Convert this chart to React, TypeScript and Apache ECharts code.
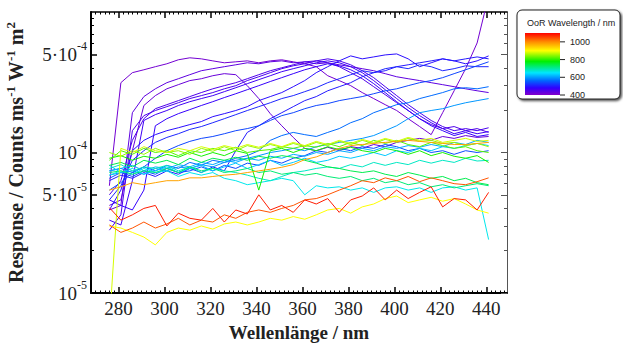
import React, { useEffect, useRef } from "react";
import * as echarts from "echarts";

// Wavelength grid (nm)
const wavelengths = [276, 281, 286, 291, 296, 301, 306, 311, 316, 321, 326, 331, 336, 341, 346, 351, 356, 361, 366, 371, 376, 381, 386, 391, 396, 401, 406, 411, 416, 421, 426, 431, 436, 441];

// Responses in units of 1e-5 Counts ms^-1 W^-1 m^2, one array per OoR wavelength
const r415 = [5.8, 31.4, 37.0, 38.8, 40.8, 42.8, 45.7, 47.2, 46.4, 44.9, 43.5, 44.2, 44.9, 43.5, 44.9, 45.7, 44.2, 42.8, 40.8, 35.2, 32.5, 29.9, 26.7, 24.2, 21.9, 19.9, 17.4, 15.3, 13.4, 19.2, 27.5, 39.5, 60.2, 130];
const r425 = [4.2, 4.6, 10.3, 21.6, 25.4, 28.4, 30.4, 32.5, 33.5, 35.2, 36.4, 35.8, 29.9, 24.2, 18.9, 15.5, 12.8, 10.7, 10.3, 10.9, 10.3, 11.0, 10.7, 11.4, 11.0, 11.8, 12.2, 12.6, 12.2, 13.0, 12.6, 13.2, 12.8, 13.0];
const r435 = [3.9, 4.2, 19.2, 25.0, 28.4, 31.4, 33.5, 35.8, 38.2, 39.5, 40.8, 42.1, 43.5, 42.8, 44.2, 44.9, 43.5, 44.2, 42.8, 43.5, 42.1, 40.8, 39.5, 38.2, 36.4, 34.6, 33.5, 32.5, 31.4, 30.4, 29.4, 28.4, 27.5, 26.7];
const r450 = [5.0, 6.3, 12.2, 17.4, 20.5, 21.9, 23.4, 25.0, 26.7, 28.4, 29.9, 31.4, 33.5, 35.8, 38.2, 40.1, 42.1, 44.2, 44.9, 43.5, 40.8, 37.0, 33.5, 29.4, 25.8, 22.6, 19.9, 17.4, 15.8, 14.8, 15.3, 14.3, 14.8, 13.9];
const r455 = [2.8, 3.6, 14.3, 18.3, 19.9, 21.2, 22.6, 24.2, 25.4, 26.7, 28.4, 29.9, 32.5, 34.6, 37.0, 39.5, 41.4, 42.8, 44.9, 46.4, 44.9, 42.1, 38.2, 34.1, 29.4, 25.4, 21.9, 19.2, 16.9, 15.3, 14.3, 14.8, 14.3, 15.0];
const r465 = [3.3, 3.05, 6.3, 16.9, 18.6, 19.9, 21.6, 23.0, 24.2, 25.4, 27.1, 28.9, 30.9, 33.0, 35.2, 37.6, 39.5, 41.4, 43.5, 44.9, 43.5, 40.8, 37.0, 32.5, 28.0, 24.2, 20.9, 18.3, 16.3, 14.8, 13.6, 14.3, 13.6, 14.1];
const r475 = [4.6, 4.2, 3.9, 5.4, 15.5, 17.4, 18.9, 20.2, 21.6, 23.0, 24.6, 26.2, 28.0, 29.9, 32.0, 34.1, 36.4, 38.8, 40.8, 42.8, 41.4, 38.8, 35.2, 30.9, 26.7, 23.0, 19.9, 17.4, 15.5, 14.3, 13.2, 13.9, 13.0, 13.4];
const r490 = [3.9, 5.4, 10.3, 12.2, 13.4, 14.3, 15.0, 15.8, 16.6, 18.0, 18.9, 19.9, 21.2, 23.4, 25.0, 26.7, 29.4, 32.5, 37.0, 40.8, 44.9, 48.7, 46.4, 47.9, 49.5, 50.3, 46.4, 40.8, 43.5, 46.4, 44.9, 42.8, 44.9, 48.7];
const r500 = [6.3, 6.9, 6.55, 7.2, 6.75, 7.4, 7.0, 7.7, 7.2, 7.9, 7.4, 10.3, 13.9, 15.5, 17.4, 19.2, 21.2, 23.4, 25.0, 27.5, 29.4, 31.4, 34.6, 37.0, 38.2, 40.8, 42.1, 43.5, 44.9, 46.4, 44.9, 46.4, 47.9, 46.4];
const r510 = [4.6, 5.8, 8.8, 10.3, 11.8, 12.8, 13.6, 14.6, 15.3, 16.3, 17.4, 18.6, 19.9, 21.2, 22.6, 24.2, 25.4, 27.1, 28.9, 31.4, 33.5, 35.8, 38.2, 37.0, 39.5, 40.8, 39.5, 42.1, 40.8, 38.2, 39.5, 41.4, 40.8, 40.8];
const r535 = [5.4, 6.1, 7.2, 7.9, 9.1, 10.3, 11.2, 12.0, 12.6, 13.0, 13.6, 14.3, 14.8, 15.5, 16.9, 18.3, 19.2, 20.5, 21.6, 22.3, 23.4, 24.2, 25.0, 26.2, 27.5, 28.4, 29.9, 31.4, 32.5, 34.1, 36.4, 38.8, 41.4, 44.2];
const r540 = [6.55, 7.2, 6.75, 7.4, 7.0, 7.7, 7.2, 7.4, 7.9, 7.4, 8.1, 7.7, 8.4, 8.1, 8.8, 8.4, 9.1, 9.5, 10.3, 10.0, 10.7, 10.3, 11.0, 10.7, 11.4, 11.0, 10.3, 10.7, 10.0, 10.3, 9.7, 10.3, 10.0, 10.3];
const r565 = [7.4, 7.7, 7.2, 7.9, 7.4, 8.1, 7.7, 8.5, 8.1, 8.8, 8.5, 9.1, 9.5, 10.3, 12.2, 13.2, 13.9, 13.4, 13.0, 13.9, 14.8, 16.3, 17.4, 19.2, 20.5, 21.9, 22.6, 24.2, 25.4, 26.7, 28.4, 28.9, 28.4, 29.4];
const r595 = [6.9, 7.2, 7.4, 7.0, 7.7, 7.4, 7.9, 7.7, 8.2, 7.9, 8.5, 8.8, 9.1, 9.5, 10.0, 10.3, 10.7, 10.3, 11.0, 11.4, 11.8, 12.2, 12.6, 13.2, 14.3, 15.5, 17.4, 19.2, 19.9, 20.5, 21.6, 22.6, 23.4, 24.2];
const r610 = [7.4, 7.7, 8.1, 7.4, 7.9, 7.7, 8.2, 7.9, 8.5, 8.2, 8.8, 8.5, 9.1, 8.8, 9.4, 9.1, 9.7, 9.4, 10.0, 9.7, 10.3, 10.0, 10.7, 10.3, 11.0, 10.7, 11.2, 10.9, 11.4, 11.0, 11.8, 11.4, 12.2, 11.8];
const r630 = [8.1, 7.2, 7.7, 7.0, 7.4, 7.9, 7.2, 7.7, 8.1, 7.4, 7.9, 8.4, 7.7, 8.2, 8.8, 8.1, 8.5, 9.1, 8.5, 8.8, 9.4, 9.1, 9.5, 10.0, 9.5, 10.3, 10.0, 10.7, 10.3, 11.0, 10.7, 11.2, 11.6, 11.2];
const r660 = [6.9, 7.4, 7.0, 7.7, 7.2, 7.4, 6.75, 7.2, 6.9, 7.2, 6.55, 6.3, 5.9, 6.1, 6.3, 6.55, 6.3, 5.0, 5.8, 5.6, 5.7, 5.4, 5.6, 5.2, 5.6, 5.7, 5.4, 5.6, 5.2, 5.6, 5.7, 5.4, 5.6, 2.4];
const r680 = [7.7, 8.2, 7.4, 7.9, 7.7, 8.1, 7.4, 7.9, 7.2, 7.7, 7.4, 7.2, 6.9, 6.55, 6.3, 6.75, 7.2, 7.4, 7.7, 7.9, 7.7, 8.2, 7.9, 8.5, 8.1, 8.5, 8.2, 8.8, 8.4, 8.8, 8.5, 9.1, 8.7, 8.8];
const r720 = [7.2, 7.4, 7.0, 7.4, 7.2, 7.7, 7.2, 7.9, 7.4, 7.7, 7.2, 7.4, 7.7, 7.2, 7.4, 7.0, 7.2, 6.9, 7.1, 6.75, 6.55, 6.75, 6.3, 6.55, 6.1, 6.3, 5.9, 6.1, 5.7, 5.9, 5.6, 5.8, 6.0, 5.8];
const r740 = [8.1, 8.5, 7.9, 8.8, 8.4, 8.8, 8.2, 9.1, 8.5, 9.1, 8.8, 9.25, 8.8, 9.4, 9.1, 9.5, 9.25, 8.8, 8.4, 7.9, 7.7, 7.4, 7.2, 7.4, 7.0, 6.75, 7.2, 6.9, 6.55, 6.75, 6.3, 6.55, 6.1, 5.9];
const r790 = [9.1, 9.5, 8.8, 9.4, 9.1, 9.7, 9.25, 10.0, 9.4, 10.0, 9.5, 10.3, 9.85, 5.4, 10.3, 10.7, 10.0, 10.7, 10.3, 11.0, 10.5, 10.9, 10.3, 10.0, 10.7, 10.3, 9.7, 10.3, 9.5, 10.0, 9.4, 9.1, 9.5, 8.5];
const r820 = [8.8, 10.3, 9.7, 10.7, 10.0, 10.3, 9.5, 10.3, 10.0, 10.7, 10.3, 10.9, 10.0, 10.3, 10.5, 11.0, 10.7, 11.2, 10.9, 11.6, 11.0, 11.8, 11.2, 12.2, 11.6, 12.2, 11.4, 11.0, 11.8, 11.2, 10.7, 11.0, 10.3, 10.0];
const r850 = [10.0, 9.4, 10.3, 9.7, 10.7, 10.0, 10.3, 9.7, 10.7, 10.2, 11.0, 10.3, 11.2, 10.7, 11.4, 10.9, 11.6, 11.0, 11.8, 11.2, 12.0, 11.4, 12.2, 11.6, 12.4, 11.8, 12.6, 12.0, 12.2, 11.6, 11.8, 11.2, 11.6, 11.0];
const r880 = [0.6, 10.7, 10.0, 11.0, 10.3, 10.0, 10.7, 10.3, 11.0, 10.5, 11.2, 10.7, 11.4, 10.9, 11.6, 11.0, 11.8, 11.2, 12.0, 11.4, 12.2, 11.6, 12.4, 11.8, 12.6, 12.0, 12.8, 12.2, 12.6, 11.8, 12.2, 12.6, 12.0, 12.2];
const r900 = [3.0, 2.9, 2.7, 2.5, 2.2, 2.7, 2.9, 2.8, 3.0, 2.85, 3.1, 3.2, 3.05, 3.2, 3.4, 3.3, 3.5, 3.35, 3.6, 3.9, 4.0, 3.7, 4.1, 4.3, 4.7, 4.9, 4.4, 4.6, 4.8, 4.5, 4.7, 4.3, 3.9, 3.7];
const r980 = [5.4, 5.7, 6.1, 5.9, 6.1, 6.3, 6.3, 6.6, 6.6, 6.75, 6.9, 7.0, 7.2, 7.4, 7.6, 7.85, 8.2, 8.9, 9.3, 10.0, 10.7, 11.2, 11.4, 11.6, 11.8, 12.0, 12.2, 12.0, 11.8, 11.6, 11.4, 11.4, 11.6, 11.8];
const r1040 = [3.05, 2.7, 2.9, 3.2, 2.9, 3.1, 3.4, 3.05, 3.3, 3.2, 3.6, 3.4, 3.75, 3.9, 3.75, 4.0, 4.2, 4.6, 4.7, 5.0, 5.4, 5.8, 6.3, 6.1, 6.6, 6.3, 6.75, 6.2, 6.6, 6.3, 6.0, 5.9, 6.2, 6.6];
const r1080 = [4.05, 3.3, 3.6, 4.0, 4.2, 3.0, 3.7, 3.4, 3.3, 4.0, 3.2, 3.9, 3.65, 5.0, 3.9, 4.2, 3.75, 4.6, 4.3, 4.7, 3.75, 4.6, 4.9, 5.6, 4.6, 5.4, 4.7, 5.2, 5.7, 4.1, 4.7, 4.6, 3.9, 5.2];

const oorWavelengths = [415, 425, 435, 450, 455, 465, 475, 490, 500, 510, 535, 540, 565, 595, 610, 630, 660, 680, 720, 740, 790, 820, 850, 880, 900, 980, 1040, 1080];
const responses = [r415, r425, r435, r450, r455, r465, r475, r490, r500, r510, r535, r540, r565, r595, r610, r630, r660, r680, r720, r740, r790, r820, r850, r880, r900, r980, r1040, r1080];

// Colour scale (OoR wavelength / nm -> colour)
const scaleValues = [400, 480, 560, 650, 780, 900, 1000, 1100];
const scaleColors = ["#8200c8", "#3000ff", "#0064ff", "#00e6ff", "#00f000", "#ffff00", "#ff8c00", "#ff0000"];
const legendTicks = [400, 600, 800, 1000];

const xLabelTicks = [280, 300, 320, 340, 360, 380, 400, 420, 440];
const yLabelTicks = [1e-5, 5e-5, 1e-4, 5e-4];

const X_MIN = 268;
const X_MAX = 449;
const SERIF = "'Liberation Serif', 'Times New Roman', serif";
const SANS = "'Liberation Sans', Arial, sans-serif";

function hex(c: string) {
  return [parseInt(c.slice(1, 3), 16), parseInt(c.slice(3, 5), 16), parseInt(c.slice(5, 7), 16)];
}
function colorFor(v: number) {
  for (let i = 0; i < scaleValues.length - 1; i++) {
    if (v <= scaleValues[i + 1]) {
      const t = (v - scaleValues[i]) / (scaleValues[i + 1] - scaleValues[i]);
      const a = hex(scaleColors[i]);
      const b = hex(scaleColors[i + 1]);
      const m = a.map((x, k) => Math.round(x + (b[k] - x) * t));
      return `rgb(${m[0]},${m[1]},${m[2]})`;
    }
  }
  return scaleColors[scaleColors.length - 1];
}

export default function App() {
  const ref = useRef<HTMLDivElement>(null);
  useEffect(() => {
    if (!ref.current) return;
    const chart = echarts.init(ref.current, null, { renderer: "svg" });

    const majorX = xLabelTicks;
    const minorX: number[] = [];
    for (let v = 270; v <= 448; v += 2) if (v % 20 !== 0) minorX.push(v);
    const majorY = yLabelTicks.map((v) => Math.log10(v));
    const minorY: number[] = [];
    for (let e = -5; e <= -4; e++) for (let k = 2; k <= 9; k++) if (k !== 5) minorY.push(Math.log10(k) + e);

    const fmtY = (v: number) => {
      const e = Math.floor(v + 1e-6);
      const m = Math.round(Math.pow(10, v - e));
      return (m === 1 ? "" : m + "·") + "10{s|" + e + "}";
    };

    const baseX = {
      type: "value" as const,
      min: X_MIN,
      max: X_MAX,
      splitLine: { show: false },
      axisLine: { onZero: false, lineStyle: { color: "#000", width: 2 } },
    };
    const baseY = {
      type: "value" as const,
      min: -5,
      max: -3,
      splitLine: { show: false },
      axisLine: { onZero: false, lineStyle: { color: "#000", width: 2 } },
    };

    const grid = { left: 91, top: 12, right: 116, bottom: 51, outerBoundsMode: "none" };

    const series = responses.map((arr, i) => ({
      type: "line",
      name: String(oorWavelengths[i]),
      xAxisIndex: 0,
      yAxisIndex: 0,
      showSymbol: false,
      symbol: "none",
      silent: true,
      clip: true,
      lineStyle: { width: 1, color: colorFor(oorWavelengths[i]) },
      data: wavelengths.map((w, j) => [w, Math.log10(arr[j] * 1e-5)]),
    }));

    const bar = { x: 525, y: 33, w: 35, h: 62 };
    const legendGraphics: any[] = [
      {
        type: "rect",
        shape: { x: 517, y: 10, width: 103, height: 89, r: 5 },
        style: { fill: "#fff", stroke: "#222", lineWidth: 1, shadowBlur: 2, shadowOffsetX: 1.5, shadowOffsetY: 1.5, shadowColor: "rgba(0,0,0,0.7)" },
        z: 100,
      },
      {
        type: "text",
        x: 527,
        y: 23,
        style: { text: "OoR Wavelength / nm", font: `9px ${SANS}`, fill: "#222", verticalAlign: "middle" },
        z: 101,
      },
      {
        type: "rect",
        shape: { x: bar.x, y: bar.y, width: bar.w, height: bar.h },
        style: {
          fill: new echarts.graphic.LinearGradient(
            0, 1, 0, 0,
            scaleValues.map((v, i) => ({ offset: (v - 400) / 700, color: scaleColors[i] }))
          ),
        },
        z: 101,
      },
    ];
    legendTicks.forEach((v) => {
      const y = bar.y + bar.h - ((v - 400) / 700) * bar.h;
      legendGraphics.push({
        type: "line",
        shape: { x1: bar.x + bar.w, y1: y, x2: bar.x + bar.w + 5, y2: y },
        style: { stroke: "#222", lineWidth: 1 },
        z: 101,
      });
      legendGraphics.push({
        type: "text",
        x: bar.x + bar.w + 10,
        y,
        style: { text: String(v), font: `9px ${SANS}`, fill: "#222", verticalAlign: "middle" },
        z: 101,
      });
    });

    chart.setOption({
      animation: false,
      backgroundColor: "#fff",
      grid,
      xAxis: [
        {
          ...baseX,
          position: "bottom",
          axisTick: { inside: true, length: 6, customValues: majorX, lineStyle: { color: "#000", width: 1.5 } },
          axisLabel: { customValues: majorX, fontFamily: SERIF, fontSize: 19, color: "#222", margin: 6 },
          name: "Wellenlänge / nm",
          nameLocation: "middle",
          nameGap: 27,
          nameTextStyle: { fontFamily: SERIF, fontSize: 19, fontWeight: "bold", color: "#222" },
        },
        {
          ...baseX,
          position: "bottom",
          axisLine: { show: false, onZero: false },
          axisTick: { inside: true, length: 2.5, customValues: minorX, lineStyle: { color: "#000", width: 1 } },
          axisLabel: { show: false },
        },
        {
          ...baseX,
          position: "top",
          axisLine: { onZero: false, lineStyle: { color: "#000", width: 1.5 } },
          axisTick: { inside: true, length: 6, customValues: majorX, lineStyle: { color: "#000", width: 1.5 } },
          axisLabel: { show: false },
        },
        {
          ...baseX,
          position: "top",
          axisLine: { show: false, onZero: false },
          axisTick: { inside: true, length: 2.5, customValues: minorX, lineStyle: { color: "#000", width: 1 } },
          axisLabel: { show: false },
        },
      ],
      yAxis: [
        {
          ...baseY,
          position: "left",
          axisTick: { inside: true, length: 6, customValues: majorY, lineStyle: { color: "#000", width: 1.5 } },
          axisLabel: {
            customValues: majorY,
            formatter: fmtY,
            fontFamily: SERIF,
            fontSize: 19,
            lineHeight: 28,
            color: "#222",
            margin: 4,
            rich: { s: { fontFamily: SERIF, fontSize: 12, lineHeight: 12, verticalAlign: "top", color: "#222" } },
          },
          name: "Response / Counts ms{s|-1} W{s|-1} m{s|2}",
          nameLocation: "middle",
          nameGap: 63,
          nameRotate: 90,
          nameMoveOverlap: false,
          nameTextStyle: {
            fontFamily: SERIF,
            fontSize: 20,
            fontWeight: "bold",
            lineHeight: 24,
            color: "#222",
            rich: { s: { fontFamily: SERIF, fontSize: 13, fontWeight: "bold", lineHeight: 15, verticalAlign: "top", color: "#222" } },
          },
        },
        {
          ...baseY,
          position: "left",
          axisLine: { show: false, onZero: false },
          axisTick: { inside: true, length: 3, customValues: minorY, lineStyle: { color: "#000", width: 1 } },
          axisLabel: { show: false },
        },
        {
          ...baseY,
          position: "right",
          axisLine: { onZero: false, lineStyle: { color: "#555", width: 1 } },
          axisTick: { inside: true, length: 6, customValues: majorY, lineStyle: { color: "#555", width: 1 } },
          axisLabel: { show: false },
        },
        {
          ...baseY,
          position: "right",
          axisLine: { show: false, onZero: false },
          axisTick: { inside: true, length: 3, customValues: minorY, lineStyle: { color: "#555", width: 1 } },
          axisLabel: { show: false },
        },
      ],
      series,
      graphic: legendGraphics,
    });

    return () => chart.dispose();
  }, []);

  return <div ref={ref} style={{ position: "fixed", left: 0, top: 0, width: 623, height: 344, background: "#fff" }} />;
}
